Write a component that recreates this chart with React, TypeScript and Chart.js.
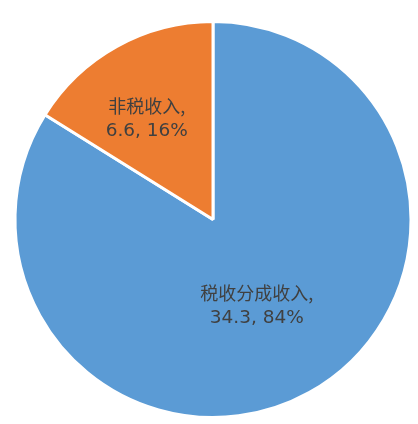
import { useEffect, useRef } from 'react'
import { Chart, registerables, Plugin } from 'chart.js'

Chart.register(...registerables)

const categories = ['税收分成收入', '非税收入']
const values = [34.3, 6.6]
const percents = ['84%', '16%']
const colors = ['#5B9BD5', '#ED7D31']
// label placement: fraction of the radius, and a small turn (degrees) off the slice middle
const labelRadius = [0.49, 0.61]
const labelTurn = [2.2, -4.2]

const sliceLabels: Plugin<'pie'> = {
  id: 'sliceLabels',
  afterDatasetsDraw(chart) {
    const ctx = chart.ctx
    const meta = chart.getDatasetMeta(0)
    ctx.save()
    ctx.fillStyle = '#404040'
    ctx.textAlign = 'center'
    ctx.textBaseline = 'middle'
    meta.data.forEach((el: any, i) => {
      const { x, y, startAngle, endAngle, outerRadius } = el.getProps(
        ['x', 'y', 'startAngle', 'endAngle', 'outerRadius'], true)
      const mid = (startAngle + endAngle) / 2 + (labelTurn[i] * Math.PI) / 180
      const r = outerRadius * labelRadius[i]
      const cx = x + Math.cos(mid) * r
      const cy = y + Math.sin(mid) * r
      ctx.font = '18px "Noto Sans CJK SC", sans-serif'
      ctx.fillText(categories[i] + ',', cx, cy - 12.5)
      ctx.font = '18.5px "DejaVu Sans", sans-serif'
      ctx.fillText(`${values[i]}, ${percents[i]}`, cx, cy + 12.5)
    })
    ctx.restore()
  },
}

export default function App() {
  const canvasRef = useRef<HTMLCanvasElement>(null)
  const chartRef = useRef<Chart | null>(null)

  useEffect(() => {
    document.body.style.margin = '0'
    if (!canvasRef.current) return
    chartRef.current?.destroy()

    chartRef.current = new Chart(canvasRef.current, {
      type: 'pie',
      data: {
        labels: categories,
        datasets: [{
          data: values,
          backgroundColor: colors,
          borderColor: '#ffffff',
          borderWidth: 3,
        }],
      },
      options: {
        responsive: true,
        maintainAspectRatio: false,
        animation: false,
        layout: { padding: { left: 8, right: 0, top: 20, bottom: 5 } },
        plugins: {
          legend: { display: false },
          tooltip: { enabled: false },
        },
      },
      plugins: [sliceLabels],
    })

    return () => {
      chartRef.current?.destroy()
      chartRef.current = null
    }
  }, [])

  return (
    <div style={{ position: 'relative', width: 418, height: 424, background: '#fff' }}>
      <canvas ref={canvasRef} />
    </div>
  )
}
